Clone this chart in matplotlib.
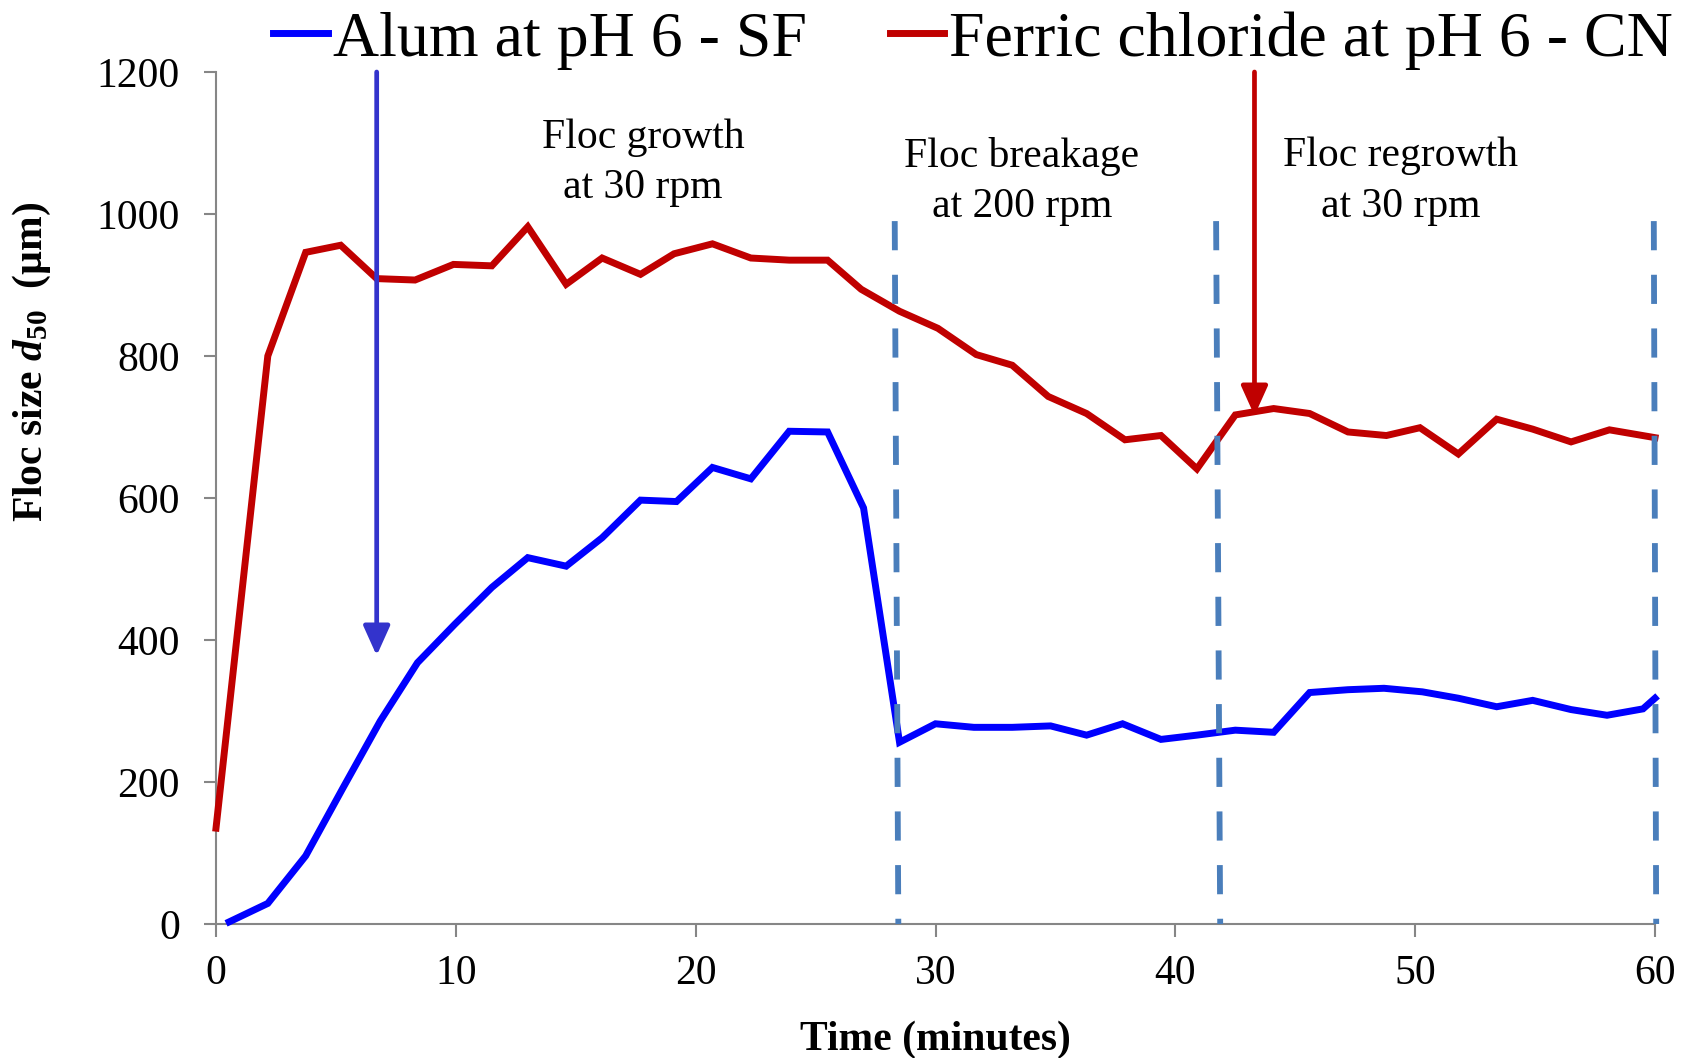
import matplotlib
matplotlib.use("Agg")
import matplotlib.pyplot as plt

# ---------------- data ----------------
time_alum = [0.55, 2.16, 3.74, 5.3, 6.85, 8.4, 9.95, 11.5, 13.0, 14.6, 16.1, 17.7, 19.2,
             20.7, 22.3, 23.9, 25.5, 27.0, 28.5, 30.0, 31.6, 33.2, 34.8, 36.3, 37.8,
             39.4, 40.9, 42.5, 44.1, 45.6, 47.2, 48.7, 50.3, 51.8, 53.4, 54.9, 56.5,
             58.0, 59.5, 60.0]
alum = [3, 29, 96, 192, 286, 368, 422, 474, 516, 504, 544, 597, 595,
        643, 627, 694, 693, 586, 256, 282, 277, 277, 279, 266, 282,
        260, 266, 273, 270, 326, 330, 332, 327, 318, 306, 315, 302,
        294, 303, 318]

time_ferric = [0.0, 2.16, 3.74, 5.2, 6.7, 8.3, 9.9, 11.5, 13.0, 14.6, 16.1, 17.7, 19.1,
               20.7, 22.3, 23.9, 25.5, 26.9, 28.5, 30.1, 31.7, 33.2, 34.7, 36.3, 37.9,
               39.4, 40.9, 42.5, 44.1, 45.6, 47.2, 48.8, 50.2, 51.8, 53.4, 54.9, 56.5,
               58.1, 60.0]
ferric = [135, 800, 946, 956, 909, 907, 929, 927, 982, 901, 938, 915, 944,
          958, 938, 935, 935, 894, 863, 839, 802, 787, 743, 719, 682,
          688, 641, 717, 726, 719, 693, 688, 699, 662, 711, 697, 679,
          696, 685]

series_labels = ["Alum at pH 6 - SF", "Ferric chloride at pH 6 - CN"]
phase_bound_top = [28.3, 41.7, 59.95]
phase_bound_bottom = [28.45, 41.87, 60.05]
phase_bound_height = 990
phase_labels = ["Floc growth\nat 30 rpm", "Floc breakage\nat 200 rpm", "Floc regrowth\nat 30 rpm"]
phase_label_x = [17.8, 33.6, 49.4]
phase_label_y = [1072, 1046, 1046]
dose_arrow_x = [6.7, 43.3]
dose_arrow_end = [378, 716]
x_ticks = [0, 10, 20, 30, 40, 50, 60]
y_ticks = [0, 200, 400, 600, 800, 1000, 1200]

# ---------------- style ----------------
plt.rcParams['font.family'] = ['Liberation Serif', 'DejaVu Serif']
plt.rcParams['mathtext.fontset'] = 'custom'
plt.rcParams['mathtext.rm'] = 'Liberation Serif:bold'
plt.rcParams['mathtext.it'] = 'Liberation Serif:italic:bold'
plt.rcParams['mathtext.bf'] = 'Liberation Serif:bold'

BLUE = '#0000ff'
RED = '#c00000'
DASH = '#4a7ebb'
AXC = '#868686'

fig = plt.figure(figsize=(16.94, 10.58), dpi=100)
ax = fig.add_axes([216/1694, 1-924/1058, (1655-216)/1694, (924-72)/1058])

l1, = ax.plot(time_alum, alum, color=BLUE, lw=5, solid_joinstyle='miter', zorder=3,
              label=series_labels[0], clip_on=False)
l2, = ax.plot(time_ferric, ferric, color=RED, lw=5, solid_joinstyle='miter', zorder=3,
              label=series_labels[1], clip_on=False)

for xt, xb in zip(phase_bound_top, phase_bound_bottom):
    ax.plot([xt, xb], [phase_bound_height, 0], color=DASH, lw=4.2,
            linestyle=(0, (5.0, 4.2)), zorder=4, clip_on=False)

for x, t, y in zip(phase_label_x, phase_labels, phase_label_y):
    ax.text(x, y, t, ha='center', va='center', fontsize=30, linespacing=1.4)

arrow_cols = ['#3333cc', RED]
for x, yend, c in zip(dose_arrow_x, dose_arrow_end, arrow_cols):
    ax.annotate('', xy=(x, yend), xytext=(x, 1200),
                arrowprops=dict(arrowstyle='-|>,head_length=1.0,head_width=0.45',
                                color=c, lw=3.4, mutation_scale=18,
                                shrinkA=0, shrinkB=0),
                annotation_clip=False, zorder=5)

ax.set_xlim(0, 60)
ax.set_ylim(0, 1200)
ax.set_xticks(x_ticks)
ax.set_yticks(y_ticks)
for s in ['top', 'right']:
    ax.spines[s].set_visible(False)
for s in ['left', 'bottom']:
    ax.spines[s].set_color(AXC)
    ax.spines[s].set_linewidth(1.5)
ax.tick_params(axis='both', colors=AXC, labelcolor='black', labelsize=30,
               length=9, width=1.5, direction='out')
ax.tick_params(axis='x', pad=13)
ax.tick_params(axis='y', pad=17)

ax.set_xlabel('Time (minutes)', fontsize=30, fontweight='bold', labelpad=20)
ax.set_ylabel('Floc size $d_{\\mathit{50}}$  (µm)', fontsize=30, fontweight='bold')
ax.yaxis.set_label_coords(-0.113, 0.66)

fig.legend(handles=[l1, l2], loc='center', bbox_to_anchor=(0.5745, 0.962),
           ncol=2, frameon=False, fontsize=46, handlelength=0.85,
           handletextpad=0.08, columnspacing=1.3, borderaxespad=0, borderpad=0)

fig.savefig('out.png', dpi=100)
